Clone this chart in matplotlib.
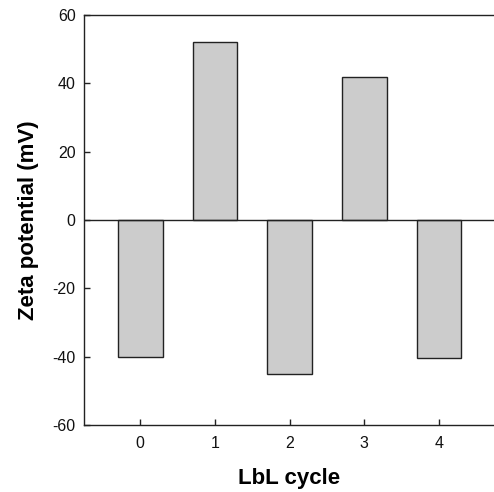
import matplotlib
matplotlib.use("Agg")
import matplotlib.pyplot as plt

cycles = [0, 1, 2, 3, 4]
zeta = [-40.0, 52.0, -45.0, 42.0, -40.3]
yticks = [-60, -40, -20, 0, 20, 40, 60]

plt.rcParams['font.family'] = ['Liberation Sans', 'DejaVu Sans']
plt.rcParams['axes.unicode_minus'] = False

fig = plt.figure(figsize=(4.94, 4.92), dpi=100)
W, H = 494, 492
left, right, top, bottom = 84, 495, 15, 425
ax = fig.add_axes([left / W, 1 - bottom / H, (right - left) / W, (bottom - top) / H])

ax.bar(cycles, zeta, width=0.6, color='#cccccc', edgecolor='#222222', linewidth=1.0, zorder=2)
ax.axhline(0, color='#222222', linewidth=1.0, zorder=3)

ax.set_xlim(-0.754, 4.75)
ax.set_ylim(-60, 60)
ax.set_xticks(cycles)
ax.set_yticks(yticks)
ax.tick_params(direction='in', length=4.3, width=1.0, labelsize=11.5, colors='#222222', labelcolor='#111111')
ax.tick_params(axis='y', pad=6)
ax.tick_params(axis='x', pad=8)
for s in ax.spines.values():
    s.set_linewidth(1.0)
    s.set_color('#222222')

ax.set_xlabel('LbL cycle', fontsize=16, fontweight='bold', labelpad=12)
ax.set_ylabel('Zeta potential (mV)', fontsize=16, fontweight='bold', labelpad=10)

fig.savefig('out.png', dpi=100)
